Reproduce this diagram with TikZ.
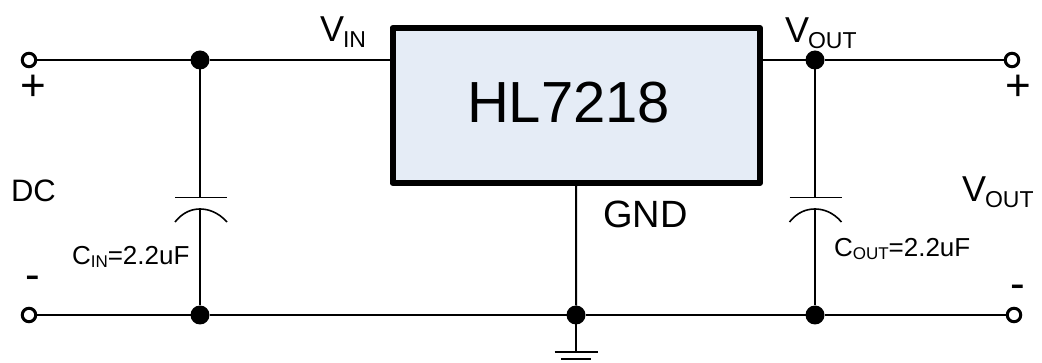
\documentclass[tikz,border=0pt]{standalone}
\usepackage{fontspec}
\setmainfont{Liberation Sans}
\definecolor{chipfill}{HTML}{E5ECF6}
\newcommand{\fsz}[1]{\fontsize{#1}{#1}\selectfont}
\newcommand{\bigsub}[3]{{\fsz{#1}V\kern-1pt\raisebox{-6pt}{\fsz{#2}#3}}}
\newcommand{\capsub}[1]{{\fsz{26}C\raisebox{-3pt}{\fsz{17}#1}=2.2uF}}
\tikzset{
  wire/.style={line width=2pt},
  plate/.style={line width=1.6pt},
  term/.style={circle,draw,fill=white,line width=3pt,inner sep=0pt,outer sep=0pt,minimum size=13.5pt},
  dot/.style={circle,fill=black,inner sep=0pt,outer sep=0pt,minimum size=19pt},
  lab/.style={anchor=base west,inner sep=0pt,outer sep=0pt}
}
\begin{document}
\begin{tikzpicture}[x=1pt,y=-1pt]
    \useasboundingbox (0,0) rectangle (1042,363);

    \node (t1) at (29, 60) [term] {};
    \node (t2) at (29, 315) [term] {};
    \node (t3) at (1012, 60) [term] {};
    \node (t4) at (1014, 315) [term] {};
    \node (chip) at (576.25, 105.5) [draw,fill=chipfill,line width=6pt,line join=round,inner sep=0pt,outer sep=0pt,minimum width=367.5pt,minimum height=155pt] {};
    \node (d1) at (200, 60) [dot] {};
    \node (d2) at (200, 315) [dot] {};
    \node (d3) at (815, 60) [dot] {};
    \node (d4) at (815, 315) [dot] {};
    \node (d5) at (576, 315) [dot] {};

    \coordinate (vin) at (390, 60);
    \coordinate (vout) at (763, 60);
    \coordinate (c1a) at (200, 197.5);
    \coordinate (c1b) at (200, 209);
    \coordinate (c2a) at (815, 197.5);
    \coordinate (c2b) at (815, 209);
    \coordinate (g1) at (576, 352);

    \begin{scope}[on background layer/.try]
    \draw [wire] (t1) to (d1);
    \draw [wire] (d1) to (vin);
    \draw [wire] (vout) to (d3);
    \draw [wire] (d3) to (t3);
    \draw [wire] (t2) to (d2);
    \draw [wire] (d2) to (d5);
    \draw [wire] (d5) to (d4);
    \draw [wire] (d4) to (t4);
    \draw [wire] (d1) to (c1a);
    \draw [wire] (c1b) to (d2);
    \draw [wire] (d3) to (c2a);
    \draw [wire] (c2b) to (d4);
    \draw [wire] (chip.south) to (d5);
    \draw [wire] (d5) to (g1);
    \end{scope}

    \draw [plate] (175, 197.5) to (227, 197.5);
    \draw [plate] (175, 222) .. controls (183, 212) and (192, 209) .. (c1b) .. controls (208, 209) and (218, 212) .. (227, 222);
    \draw [plate] (789.5, 197.5) to (841.5, 197.5);
    \draw [plate] (789.5, 222) .. controls (797.5, 212) and (806.5, 209) .. (c2b) .. controls (823, 209) and (833, 212) .. (841.5, 222);
    \draw [plate] (554.5, 352) to (597.5, 352);
    \draw [plate] (561, 359) to (591, 359);

    \node (name) at (467, 123) [lab] {\fsz{58}HL7218};
    \node (lin) at (320, 42) [lab] {\bigsub{36}{23}{IN}};
    \node (lout) at (785, 43) [lab] {\bigsub{36}{23}{OUT}};
    \node (lvout) at (962, 202) [lab] {\bigsub{36}{23}{OUT}};
    \node (lgnd) at (603, 228) [lab] {\fsz{38}GND};
    \node (ldc) at (11, 202) [lab] {\fsz{31}DC};
    \node (lcin) at (72, 265) [lab] {\capsub{IN}};
    \node (lcout) at (834, 257) [lab] {\capsub{OUT}};
    \node (p1) at (33, 88) [inner sep=0pt] {\fsz{44}+};
    \node (p2) at (1018, 88) [inner sep=0pt] {\fsz{44}+};
    \node (m1) at (33, 283) [inner sep=0pt] {\fsz{44}-};
    \node (m2) at (1018, 292) [inner sep=0pt] {\fsz{44}-};

\end{tikzpicture}
\end{document}
